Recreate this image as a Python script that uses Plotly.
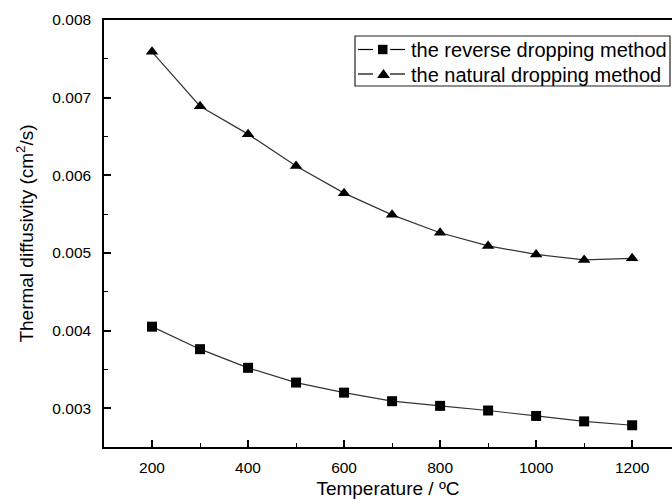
import plotly.graph_objects as go

# Temperature (ºC)
temperature = [200, 300, 400, 500, 600, 700, 800, 900, 1000, 1100, 1200]

# Thermal diffusivity (cm^2/s) for each preparation method
reverse_dropping = [0.00405, 0.00376, 0.00352, 0.00333, 0.00320, 0.00309,
                    0.00303, 0.00297, 0.00290, 0.00283, 0.00278]
natural_dropping = [0.00759, 0.00689, 0.00653, 0.00612, 0.00577, 0.00549,
                    0.00526, 0.00509, 0.00498, 0.00491, 0.00493]

series_names = ["the reverse dropping method", "the natural dropping method"]

x_ticks = [200, 400, 600, 800, 1000, 1200]
y_ticks = [0.003, 0.004, 0.005, 0.006, 0.007, 0.008]

FONT = "Arial, Liberation Sans, sans-serif"
W, H = 672, 499
M_L, M_R, M_T, M_B = 104, 0, 20, 52
PLOT_W = W - M_L - M_R
PLOT_H = H - M_T - M_B


def px_x(px):
    """Pixel column -> paper x."""
    return (px - M_L) / PLOT_W


def px_y(py):
    """Pixel row (from top) -> paper y."""
    return (H - M_B - py) / PLOT_H


fig = go.Figure()
fig.add_trace(go.Scatter(
    x=temperature, y=reverse_dropping, mode="lines+markers",
    name=series_names[0],
    line=dict(color="#333333", width=1.2),
    marker=dict(symbol="square", size=10, color="black", line=dict(width=0)),
))
fig.add_trace(go.Scatter(
    x=temperature, y=natural_dropping, mode="lines+markers",
    name=series_names[1],
    line=dict(color="#333333", width=1.2),
    marker=dict(symbol="triangle-up", size=11, color="black", line=dict(width=0)),
))

# Legend box drawn with shapes so the rows sit close together
shapes = [dict(type="rect", xref="paper", yref="paper",
               x0=px_x(355), x1=px_x(670), y0=px_y(86), y1=px_y(36),
               line=dict(color="#222222", width=1.2), fillcolor="white",
               layer="above")]
annotations = []
rows_y = [49.5, 74]
for i, (name, ry) in enumerate(zip(series_names, rows_y)):
    for xa, xb in [(358, 373), (390, 405)]:
        shapes.append(dict(type="line", xref="paper", yref="paper",
                           x0=px_x(xa), x1=px_x(xb), y0=px_y(ry), y1=px_y(ry),
                           line=dict(color="black", width=1.2), layer="above"))
    if i == 0:
        shapes.append(dict(type="rect", xref="paper", yref="paper",
                           x0=px_x(378), x1=px_x(387.5),
                           y0=px_y(ry + 4.7), y1=px_y(ry - 4.7),
                           line=dict(width=0), fillcolor="black", layer="above"))
    else:
        path = (f"M {px_x(377)},{px_y(ry + 4)} L {px_x(390)},{px_y(ry + 4)} "
                f"L {px_x(383.5)},{px_y(ry - 5)} Z")
        shapes.append(dict(type="path", xref="paper", yref="paper", path=path,
                           line=dict(width=0), fillcolor="black", layer="above"))
    annotations.append(dict(
        text=name, xref="paper", yref="paper", x=px_x(409), y=px_y(ry + 1),
        xanchor="left", yanchor="middle", showarrow=False,
        font=dict(size=20, family=FONT, color="black"),
    ))

fig.update_layout(
    width=W, height=H,
    margin=dict(l=M_L, r=M_R, t=M_T, b=M_B),
    paper_bgcolor="white", plot_bgcolor="white",
    font=dict(family=FONT, color="black"),
    showlegend=False,
    shapes=shapes,
    annotations=annotations,
)

fig.update_xaxes(
    range=[100, 1283],
    tickvals=x_ticks, ticktext=[str(v) for v in x_ticks],
    ticks="inside", ticklen=7, tickwidth=1.5, tickcolor="black",
    minor=dict(dtick=100, tick0=100, ticks="inside", ticklen=4,
               tickwidth=1.2, tickcolor="black"),
    showline=True, linecolor="black", linewidth=1.5, mirror=True,
    showgrid=False, zeroline=False,
    tickfont=dict(size=15.5, family=FONT),
    ticklabelstandoff=6,
    title=dict(text="Temperature / ºC", font=dict(size=19, family=FONT),
               standoff=6),
)
fig.update_yaxes(
    range=[0.0025, 0.008],
    tickvals=y_ticks, ticktext=[f"{v:.3f}" for v in y_ticks],
    ticks="inside", ticklen=7, tickwidth=1.5, tickcolor="black",
    minor=dict(dtick=0.0005, tick0=0.0025, ticks="inside", ticklen=4,
               tickwidth=1.2, tickcolor="black"),
    showline=True, linecolor="black", linewidth=1.5, mirror=False,
    showgrid=False, zeroline=False,
    tickfont=dict(size=15.5, family=FONT),
    ticklabelstandoff=8,
    title=dict(text="Thermal diffusivity (cm<sup>2</sup>/s)",
               font=dict(size=19, family=FONT), standoff=14),
)

fig.write_html("out.html")
